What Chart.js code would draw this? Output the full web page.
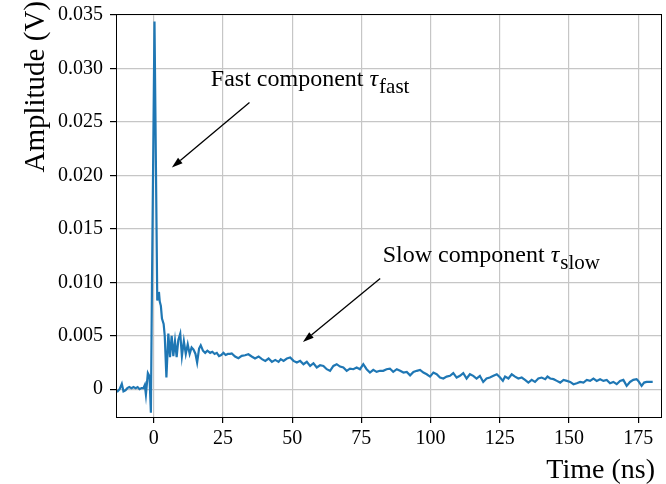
<!DOCTYPE html>
<html>
<head>
<meta charset="utf-8">
<script src="https://cdn.jsdelivr.net/npm/chart.js@4.4.1/dist/chart.umd.min.js"></script>
<style>
  html, body { margin: 0; padding: 0; background: #fff; }
</style>
</head>
<body>
<canvas id="chart1" width="666" height="484"></canvas>
<script>
const times = [
  -13.6, -13.0, -12.3, -11.5, -10.9, -10.2, -9.5, -8.8, -8.0, -7.3, -6.5, -5.8, -5.1, -4.4, -3.7, -3.2, -2.8, -2.1, -1.5, -1.0,
  -0.6, 0.3, 1.3, 1.6, 1.9, 2.2, 2.6, 3.0, 3.6, 4.0, 4.6,
  5.3, 5.9, 6.5, 7.1, 7.7, 8.3, 8.9, 9.6, 10.2, 10.9, 11.6, 12.3, 13.0, 13.7, 14.4, 15.1, 15.7, 16.4, 17.0, 17.8,
  18.6, 19.4, 20.4, 21.2, 22.0, 22.8, 23.6, 24.4, 25.2, 26.0, 26.8, 27.6, 28.2, 29.4, 30.6, 31.8, 33.0, 34.2, 35.4, 36.6,
  37.9, 39.1, 40.3, 41.5, 42.7, 43.9, 45.1, 45.9, 46.9, 48.1, 49.3, 50.5, 51.7, 52.9, 54.1, 55.3, 56.5, 57.7, 58.9, 60.1,
  61.3, 62.5, 63.7, 64.9, 66.1, 67.3, 68.5, 69.7, 70.9, 72.1, 73.3, 74.5, 75.7, 76.9, 78.1, 79.3, 80.5, 81.7, 82.9, 84.1,
  85.3, 86.5, 87.8, 89.0, 90.2, 91.4, 92.6, 93.8, 95.0, 96.2, 97.4, 98.6, 99.8, 101.0, 102.2, 103.4, 104.6, 105.8, 107.0, 108.2,
  109.4, 110.6, 111.8, 113.0, 114.2, 115.4, 116.6, 117.8, 119.0, 120.2, 121.4, 122.7, 123.9, 125.1, 126.1, 126.9, 128.1, 129.3, 130.5, 131.7,
  132.9, 134.1, 135.3, 136.5, 137.7, 138.9, 140.1, 141.4, 142.2, 143.2, 144.4, 145.6, 146.8, 148.0, 149.2, 150.4, 151.6, 152.8, 154.0, 155.2,
  156.4, 157.6, 158.8, 160.0, 161.2, 162.4, 163.6, 164.8, 166.0, 167.2, 168.4, 169.6, 170.8, 172.0, 173.2, 174.4, 175.0, 176.2, 177.1, 178.0,
  179.2, 180.2
];
const amps = [
  -0.0001, -0.0002, 0.0000, 0.0005, -0.0002, -0.0001, 0.0001, 0.0002, 0.0001, 0.0002, 0.0001, 0.0002, 0.0000, 0.0001, 0.0001, 0.0004, -0.0005, 0.0015, 0.0012, -0.0022,
  0.0100, 0.0344, 0.0083, 0.0088, 0.0091, 0.0082, 0.0078, 0.0066, 0.0061, 0.0050, 0.0011,
  0.0052, 0.0030, 0.0050, 0.0031, 0.0045, 0.0030, 0.0046, 0.0052, 0.0031, 0.0045, 0.0033, 0.0042, 0.0033, 0.0039, 0.0037, 0.0033, 0.0025, 0.0038, 0.0041, 0.0036,
  0.0034, 0.0036, 0.0034, 0.0035, 0.0033, 0.0034, 0.0031, 0.0032, 0.0034, 0.0032, 0.0033, 0.0033, 0.00334, 0.00306, 0.0029, 0.00312, 0.00318, 0.00327, 0.00306, 0.00287,
  0.00306, 0.00281, 0.00265, 0.00287, 0.00256, 0.00274, 0.00256, 0.00281, 0.00265, 0.00287, 0.00296, 0.00265, 0.00249, 0.00265, 0.00234, 0.00256, 0.00218, 0.00243, 0.00203, 0.00224,
  0.00218, 0.00187, 0.00171, 0.00218, 0.00234, 0.00212, 0.00203, 0.00172, 0.00193, 0.00187, 0.00203, 0.00187, 0.00234, 0.00187, 0.00156, 0.00181, 0.00162, 0.00172, 0.00172, 0.00187,
  0.00193, 0.00162, 0.00187, 0.00172, 0.00156, 0.00162, 0.0013, 0.00162, 0.00172, 0.00181, 0.00156, 0.0014, 0.00118, 0.00156, 0.0014, 0.00109, 0.001, 0.00118, 0.00125, 0.0015,
  0.00109, 0.00125, 0.0015, 0.001, 0.0014, 0.00125, 0.001, 0.00125, 0.00068, 0.001, 0.00109, 0.00125, 0.0014, 0.00109, 0.00078, 0.00118, 0.001, 0.0014, 0.00118, 0.001,
  0.00109, 0.00087, 0.00062, 0.00087, 0.00068, 0.001, 0.00109, 0.00094, 0.00118, 0.001, 0.00094, 0.00078, 0.00062, 0.00087, 0.00078, 0.00068, 0.00047, 0.00056, 0.00068, 0.00062,
  0.00087, 0.00078, 0.001, 0.00078, 0.00094, 0.00078, 0.00087, 0.00056, 0.00068, 0.00047, 0.00078, 0.00087, 0.00031, 0.00068, 0.00087, 0.00094, 0.00078, 0.00031, 0.00062, 0.00068,
  0.00068, 0.00068
];
const xTicks = [0, 25, 50, 75, 100, 125, 150, 175];
const yTicks = [0, 0.005, 0.010, 0.015, 0.020, 0.025, 0.030, 0.035];
const xTitle = 'Time (ns)';
const yTitle = 'Amplitude (V)';

// annotation text + arrow, in data units
const notes = [
  { text: 'Fast component ', sub: 'fast', at: [20.65, 0.02837], from: [34.6, 0.02682], to: [6.57, 0.02074] },
  { text: 'Slow component ', sub: 'slow', at: [82.7, 0.01191], from: [81.8, 0.01036], to: [53.9, 0.00442] }
];

const serif = "'Liberation Serif', 'Times New Roman', serif";

const boxAndNotes = {
  id: 'boxAndNotes',
  afterDatasetsDraw(chart) {
    const ctx = chart.ctx, a = chart.chartArea;
    const sx = chart.scales.x, sy = chart.scales.y;
    ctx.save();
    ctx.strokeStyle = '#000';
    ctx.lineWidth = 1;
    ctx.strokeRect(Math.round(a.left) + 0.5, Math.round(a.top) + 0.5, Math.round(a.right - a.left), Math.round(a.bottom - a.top));

    // axis titles (matplotlib style: y at top, x at right)
    ctx.fillStyle = '#000';
    ctx.font = `28px ${serif}`;
    ctx.textAlign = 'right';
    ctx.textBaseline = 'alphabetic';
    ctx.fillText(xTitle, a.right - 6, 478);
    ctx.save();
    ctx.translate(44, a.top - 13);
    ctx.rotate(-Math.PI / 2);
    ctx.font = `29px ${serif}`;
    ctx.fillText(yTitle, 0, 0);
    ctx.restore();

    notes.forEach(n => {
      let x = sx.getPixelForValue(n.at[0]), y = sy.getPixelForValue(n.at[1]);
      ctx.fillStyle = '#000';
      ctx.textBaseline = 'alphabetic';
      ctx.textAlign = 'left';
      ctx.font = `24px ${serif}`;
      ctx.fillText(n.text, x, y);
      x += ctx.measureText(n.text).width;
      ctx.font = `italic 24px ${serif}`;
      ctx.fillText('τ', x, y);
      x += ctx.measureText('τ').width + 1;
      ctx.font = `21px ${serif}`;
      ctx.fillText(n.sub, x, y + 7);

      const x1 = sx.getPixelForValue(n.from[0]), y1 = sy.getPixelForValue(n.from[1]);
      const x2 = sx.getPixelForValue(n.to[0]), y2 = sy.getPixelForValue(n.to[1]);
      const ang = Math.atan2(y2 - y1, x2 - x1);
      const hl = 11, hw = 3.5;
      ctx.strokeStyle = '#000';
      ctx.lineWidth = 1.3;
      ctx.beginPath();
      ctx.moveTo(x1, y1);
      ctx.lineTo(x2 - hl * Math.cos(ang), y2 - hl * Math.sin(ang));
      ctx.stroke();
      ctx.beginPath();
      ctx.moveTo(x2, y2);
      ctx.lineTo(x2 - hl * Math.cos(ang) + hw * Math.sin(ang), y2 - hl * Math.sin(ang) - hw * Math.cos(ang));
      ctx.lineTo(x2 - hl * Math.cos(ang) - hw * Math.sin(ang), y2 - hl * Math.sin(ang) + hw * Math.cos(ang));
      ctx.closePath();
      ctx.fill();
    });
    ctx.restore();
  }
};

const canvas = document.getElementById('chart1');
const context = canvas.getContext('2d');

const config = {
  type: 'line',
  data: {
    datasets: [{
      data: times.map((t, i) => ({ x: t, y: amps[i] })),
      borderColor: '#1f77b4',
      borderWidth: 2.2,
      pointRadius: 0,
      tension: 0,
      fill: false
    }]
  },
  options: {
    responsive: false,
    animation: false,
    layout: { padding: { top: 14, right: 5, left: 0, bottom: 0 } },
    plugins: { legend: { display: false }, tooltip: { enabled: false } },
    scales: {
      x: {
        type: 'linear',
        min: -13.6,
        max: 183.2,
        afterBuildTicks: s => { s.ticks = xTicks.map(v => ({ value: v })); },
        afterFit: s => { s.height = 67; s.paddingLeft = 0; s.paddingRight = 0; },
        grid: { color: '#c6c6c6', lineWidth: 1.2, tickColor: '#000', tickLength: 6 },
        border: { color: '#000', width: 1 },
        ticks: { color: '#000', font: { family: serif, size: 20 }, padding: 4, maxRotation: 0, autoSkip: false }
      },
      y: {
        min: -0.0026,
        max: 0.0351,
        afterBuildTicks: s => { s.ticks = yTicks.map(v => ({ value: v })); },
        afterFit: s => { s.width = 116; s.paddingTop = 0; s.paddingBottom = 0; },
        grid: { color: '#c6c6c6', lineWidth: 1.2, tickColor: '#000', tickLength: 6 },
        border: { color: '#000', width: 1 },
        ticks: {
          color: '#000', font: { family: serif, size: 20 }, padding: 7,
          callback: v => v === 0 ? '0' : v.toFixed(3)
        }
      }
    }
  },
  plugins: [boxAndNotes]
};

const myChart = new Chart(context, config);
</script>
</body>
</html>
